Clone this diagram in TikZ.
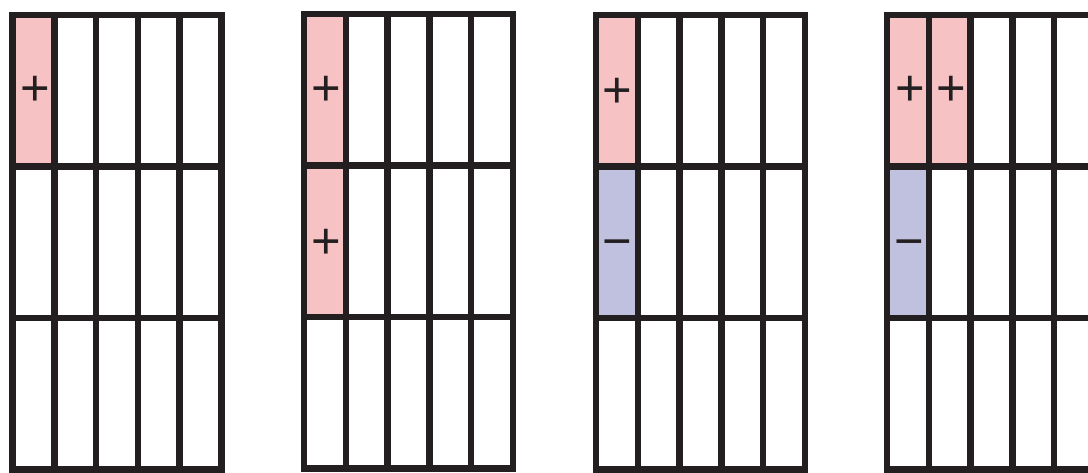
\documentclass[tikz,border=0pt]{standalone}
\usepackage{fontspec}
\setmainfont{Liberation Sans}
\definecolor{inkline}{RGB}{35,31,32}
\definecolor{posfill}{RGB}{246,194,196}
\definecolor{negfill}{RGB}{191,193,223}

\newcommand{\cellgrid}{%
  \draw[slatline] (0,0) rectangle (209,454.5);
  \foreach \c in {1,...,4} \draw[slatline] (41.8*\c,0) -- (41.8*\c,454.5);
  \foreach \r in {1,2} \draw[slatline] (0,151.5*\r) -- (209,151.5*\r);
}

\begin{document}
\begin{tikzpicture}[
x=0.75pt, y=-0.75pt,
slatline/.style={draw=inkline, line width=4.9pt, line join=miter},
sign/.style={inner sep=0pt, anchor=base, text=inkline, font=\fontsize{38}{38}\selectfont},
poscell/.style={fill=posfill},
negcell/.style={fill=negfill}
]
\useasboundingbox (0,0) rectangle (1088,472);

%---------------- Panel 1 ----------------
\begin{scope}[shift={(12.5,15)}]
\fill[poscell] (0,0) rectangle (41.8,151.5);
\cellgrid
\node[sign] (a1) at (22.5,90) {+};
\end{scope}

%---------------- Panel 2 ----------------
\begin{scope}[shift={(304,14)}]
\fill[poscell] (0,0) rectangle (41.8,303);
\cellgrid
\node[sign] (b1) at (22,91) {+};
\node[sign] (b2) at (22,244) {+};
\end{scope}

%---------------- Panel 3 ----------------
\begin{scope}[shift={(596,15)}]
\fill[poscell] (0,0) rectangle (41.8,151.5);
\fill[negcell] (0,151.5) rectangle (41.8,303);
\cellgrid
\node[sign] (c1) at (21,92) {+};
\node[sign] (c2) at (21,243) {−};
\end{scope}

%---------------- Panel 4 ----------------
\begin{scope}[shift={(887,15)}]
\fill[poscell] (0,0) rectangle (83.6,151.5);
\fill[negcell] (0,151.5) rectangle (41.8,303);
\cellgrid
\node[sign] (d1) at (23,90) {+};
\node[sign] (d2) at (64.5,90) {+};
\node[sign] (d3) at (22,243) {−};
\end{scope}

\end{tikzpicture}
\end{document}
